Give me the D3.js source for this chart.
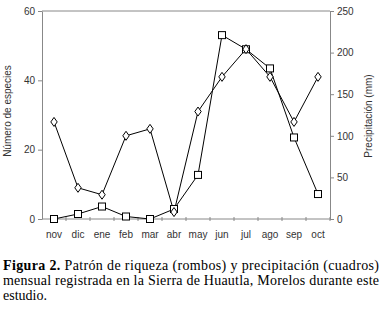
<!DOCTYPE html>
<html>
<head>
<meta charset="utf-8">
<script src="https://cdn.jsdelivr.net/npm/d3@7"></script>
<style>
body { margin: 0; background: #fff; }
.axis text { font-family: "Liberation Sans", Arial, sans-serif; font-size: 10px; fill: #333; }
.axis path, .axis line { stroke: #888; }
</style>
</head>
<body>
<div id="chart"></div>
<script>
var months = ["nov", "dic", "ene", "feb", "mar", "abr", "may", "jun", "jul", "ago", "sep", "oct"];
var riqueza = [28, 9, 7, 24, 26, 2, 31, 41, 49, 41, 28, 41];
var precipitacion = [0, 6, 15, 3, 0, 12, 53, 221, 204, 181, 98, 30];
var leftTicks = [0, 20, 40, 60];
var rightTicks = [0, 50, 100, 150, 200, 250];
var caption = [
  ["Figura 2.", " Patrón de riqueza (rombos) y precipitación (cuadros)"],
  ["", "mensual registrada en la Sierra de Huautla, Morelos durante este"],
  ["", "estudio."]
];

var W = 382, H = 311;
var margin = {top: 11, left: 42, right: 52},
    width = W - margin.left - margin.right,
    height = 208;

var svg = d3.select("#chart").append("svg")
    .attr("width", W).attr("height", H);
var g = svg.append("g").attr("transform", "translate(" + margin.left + "," + margin.top + ")");

var x = d3.scaleBand().domain(months).range([0, width]);
var yL = d3.scaleLinear().domain([0, 60]).range([height, 0]);
var yR = d3.scaleLinear().domain([0, 250]).range([height, 0]);

// top border
g.append("line").attr("x1", 0).attr("x2", width).attr("y1", 0).attr("y2", 0)
    .attr("stroke", "#888");

g.append("g").attr("class", "axis")
    .call(d3.axisLeft(yL).tickValues(leftTicks).tickSize(4).tickSizeOuter(0).tickPadding(3));
g.append("g").attr("class", "axis")
    .attr("transform", "translate(" + width + ",0)")
    .call(d3.axisRight(yR).tickValues(rightTicks).tickSize(4).tickSizeOuter(0).tickPadding(3));

// x axis: ticks at band boundaries, labels centered
var xa = g.append("g").attr("class", "axis").attr("transform", "translate(0," + height + ")");
xa.append("line").attr("x1", 0).attr("x2", width).attr("stroke", "#888");
xa.selectAll(".tk").data(months).enter().append("line")
    .attr("x1", function(d) { return x(d) + x.bandwidth(); })
    .attr("x2", function(d) { return x(d) + x.bandwidth(); })
    .attr("y1", -2).attr("y2", 2).attr("stroke", "#888");
xa.selectAll(".lb").data(months).enter().append("text")
    .attr("x", function(d) { return x(d) + x.bandwidth() / 2; })
    .attr("y", 19)
    .attr("text-anchor", "middle")
    .text(function(d) { return d; });

var cx = function(d, i) { return x(months[i]) + x.bandwidth() / 2; };

g.append("path").datum(precipitacion)
    .attr("fill", "none").attr("stroke", "#000").attr("stroke-width", 1)
    .attr("d", d3.line().x(cx).y(function(d) { return yR(d); }));
g.append("path").datum(riqueza)
    .attr("fill", "none").attr("stroke", "#000").attr("stroke-width", 1)
    .attr("d", d3.line().x(cx).y(function(d) { return yL(d); }));

g.selectAll(".sq").data(precipitacion).enter().append("rect")
    .attr("x", function(d, i) { return cx(d, i) - 3.5; })
    .attr("y", function(d) { return yR(d) - 3.5; })
    .attr("width", 7).attr("height", 7)
    .attr("fill", "#fff").attr("stroke", "#000").attr("stroke-width", 1);

g.selectAll(".dm").data(riqueza).enter().append("path")
    .attr("transform", function(d, i) { return "translate(" + cx(d, i) + "," + yL(d) + ")"; })
    .attr("d", "M0,-4.5L3.2,0L0,4.5L-3.2,0Z")
    .attr("fill", "#fff").attr("stroke", "#000").attr("stroke-width", 1);

// axis titles
svg.append("text")
    .attr("transform", "translate(11," + (margin.top + 100) + ") rotate(-90)")
    .attr("text-anchor", "middle")
    .style("font-family", "'Liberation Sans', Arial, sans-serif").style("font-size", "10px").style("fill", "#333")
    .text("Número de especies");
svg.append("text")
    .attr("transform", "translate(372," + (margin.top + 105) + ") rotate(-90)")
    .attr("text-anchor", "middle")
    .style("font-family", "'Liberation Sans', Arial, sans-serif").style("font-size", "10px").style("fill", "#333")
    .text("Precipitación (mm)");

// caption
var cap = svg.append("g").style("font-family", "'Liberation Serif', 'Times New Roman', Times, serif")
    .style("font-size", "14px").style("fill", "#000");
caption.forEach(function(line, i) {
  var t = cap.append("text").attr("x", 3).attr("y", 270 + i * 15);
  if (i < 2) t.attr("textLength", 376).attr("lengthAdjust", "spacing");
  if (line[0]) t.append("tspan").style("font-weight", "bold").text(line[0]);
  t.append("tspan").text(line[1]);
});
</script>
</body>
</html>
